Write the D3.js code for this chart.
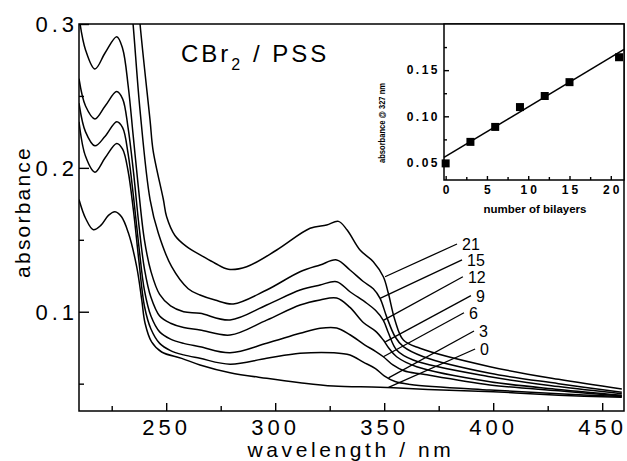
<!DOCTYPE html>
<html>
<head>
<meta charset="utf-8">
<script src="https://cdn.jsdelivr.net/npm/d3@7"></script>
<style>
  body { margin: 0; background: #fff; }
  svg { display: block; font-family: "Liberation Sans", Arial, sans-serif; }
  .frame { fill: none; stroke: #000; stroke-width: 1.5; }
  .spectrum { fill: none; stroke: #000; stroke-width: 1.5; }
  .leader { stroke: #000; stroke-width: 1.3; }
  .axis line { stroke: #000; stroke-width: 1.4; }
  .axis path { display: none; }
</style>
</head>
<body>
<svg width="627" height="461"></svg>
<script>
// spectra: [wavelength nm, absorbance], one array per number of bilayers
var curve0 = [[210, 0.178], [213, 0.165], [216.6, 0.157], [220, 0.160], [223.5, 0.167], [226.5, 0.1695], [229.5, 0.166], [232.6, 0.155], [236.5, 0.131], [238.8, 0.108], [240.3, 0.092], [243.3, 0.079], [247.9, 0.072], [257.1, 0.0676], [265.5, 0.063], [279.3, 0.0576], [296.1, 0.0537], [311.4, 0.0507], [326.7, 0.0484], [348, 0.0475], [370, 0.046], [400, 0.0444], [430, 0.042], [459, 0.0405]];
var curve3 = [[210, 0.232], [213, 0.208], [217.3, 0.197], [222, 0.207], [227.3, 0.217], [230, 0.213], [232.5, 0.198], [235, 0.17], [237.5, 0.135], [240, 0.104], [243, 0.088], [247, 0.078], [252, 0.073], [258, 0.070], [265.5, 0.0676], [279.3, 0.0635], [296.1, 0.0676], [311.4, 0.0711], [326.7, 0.0715], [334.3, 0.0699], [340.4, 0.065], [346, 0.0605], [350, 0.0555], [355, 0.0515], [362, 0.0495], [398.5, 0.0456], [430, 0.043], [459, 0.041]];
var curve6 = [[210, 0.245], [213, 0.225], [217.3, 0.2153], [222, 0.222], [227.3, 0.2321], [230, 0.228], [232.5, 0.21], [235, 0.18], [237.5, 0.145], [240, 0.115], [243, 0.097], [247, 0.086], [252, 0.081], [258, 0.078], [265.5, 0.0757], [279.3, 0.0715], [296.1, 0.0781], [311.4, 0.085], [320.6, 0.0885], [328.2, 0.0887], [334.3, 0.084], [341, 0.077], [346, 0.0725], [349.6, 0.0687], [354, 0.063], [359, 0.059], [368, 0.0565], [398.5, 0.0491], [430, 0.045], [459, 0.0415]];
var curve9 = [[210, 0.262], [213, 0.243], [217.3, 0.234], [222, 0.243], [227.3, 0.253], [230, 0.248], [232.5, 0.228], [235, 0.197], [237.5, 0.16], [240, 0.13], [243, 0.11], [247, 0.097], [252, 0.092], [258, 0.089], [265.5, 0.0873], [279.3, 0.0838], [296.1, 0.0942], [311.4, 0.1047], [320.6, 0.1082], [328.2, 0.1095], [334.3, 0.103], [340.4, 0.0925], [346, 0.0865], [349.6, 0.0803], [352, 0.075], [355.7, 0.0687], [364.9, 0.0618], [398.5, 0.0514], [430, 0.046], [459, 0.042]];
var curve12 = [[210, 0.305], [213, 0.282], [217.3, 0.2687], [222, 0.28], [227.3, 0.2912], [230, 0.283], [232.6, 0.2564], [234.9, 0.2217], [237.2, 0.187], [240, 0.15], [243, 0.128], [247, 0.112], [252, 0.104], [258, 0.1], [265.5, 0.0989], [279.3, 0.0943], [296.1, 0.1047], [311.4, 0.1151], [320.6, 0.1186], [328.2, 0.1209], [334.3, 0.1139], [342, 0.1059], [346, 0.101], [349.6, 0.094], [352, 0.085], [355.7, 0.0734], [363.3, 0.0664], [398.5, 0.0548], [430, 0.048], [459, 0.043]];
var curve15 = [[233.5, 0.32], [234.8, 0.3], [238, 0.24], [242.6, 0.178], [246.4, 0.1545], [252.5, 0.1313], [260.1, 0.116], [265.5, 0.1116], [272.4, 0.1081], [280.8, 0.1054], [296.1, 0.1151], [311.4, 0.1278], [320.6, 0.1325], [328.2, 0.136], [334.3, 0.129], [340.4, 0.121], [345, 0.116], [348.1, 0.1093], [351.1, 0.0966], [355, 0.0826], [358.8, 0.0757], [368, 0.0687], [398.5, 0.0572], [430, 0.05], [459, 0.044]];
var curve21 = [[236.5, 0.33], [238, 0.3], [242.6, 0.233], [244, 0.212], [248.7, 0.178], [250.2, 0.166], [254, 0.153], [259.4, 0.1452], [267, 0.1383], [272.4, 0.1337], [278.5, 0.1295], [286.9, 0.1313], [300.7, 0.1429], [316, 0.158], [323.6, 0.1603], [329, 0.1628], [333, 0.1568], [338.9, 0.1429], [345, 0.1348], [349.6, 0.1243], [351.9, 0.1128], [354.9, 0.0943], [358.8, 0.0803], [366.4, 0.0746], [398.5, 0.0618], [430, 0.053], [459, 0.0463]];

var bilayerLabels = ["0", "3", "6", "9", "12", "15", "21"];
var spectra = [curve0, curve3, curve6, curve9, curve12, curve15, curve21];

// leader lines: label end and curve end, in data units
var leaderStart = [[391.7, 0.0741], [391.2, 0.0866], [386.6, 0.0993], [389.8, 0.1112], [386.1, 0.1243], [385.7, 0.136], [383.4, 0.1471]];
var leaderEnd = [[352, 0.0474], [352, 0.054], [349.6, 0.0687], [350.5, 0.079], [349.6, 0.094], [348.1, 0.1093], [350.4, 0.1243]];

var xTicks = [250, 300, 350, 400, 450];
var xMinorTicks = [225, 275, 325, 375, 425];
var yTicks = [0.1, 0.2, 0.3];
var yMinorTicks = [0.05, 0.15, 0.25];

// inset: absorbance @ 327 nm vs number of bilayers
var insetLayers = [0, 3, 6, 9, 12, 15, 21];
var insetAbs = [0.049, 0.0723, 0.0885, 0.110, 0.122, 0.137, 0.164];
var fitLine = [[-0.2, 0.0555], [21.6, 0.1724]];
var insetXTicks = [0, 5, 10, 15, 20];
var insetXMinor = [2.5, 7.5, 12.5, 17.5];
var insetYTicks = [0.05, 0.10, 0.15];
var insetYMinor = [0.075, 0.125, 0.175];

var svg = d3.select("svg");

//////////// MAIN PLOT ////////////

var plotLeft = 79, plotTop = 24, plotRight = 624, plotBottom = 411;

var x = d3.scaleLinear().domain([210, 460]).range([plotLeft, plotRight]);
var y = d3.scaleLinear().domain([0.031, 0.3]).range([plotBottom, plotTop]);

svg.append("clipPath").attr("id", "plotclip")
    .append("rect")
    .attr("x", plotLeft).attr("y", plotTop)
    .attr("width", plotRight - plotLeft).attr("height", plotBottom - plotTop);

var line = d3.line()
    .x(function (d) { return x(d[0]); })
    .y(function (d) { return y(d[1]); })
    .curve(d3.curveCatmullRom.alpha(0.5));

svg.append("g")
    .attr("clip-path", "url(#plotclip)")
    .selectAll("path")
    .data(spectra)
    .enter().append("path")
    .attr("class", "spectrum")
    .attr("d", line);

// leader lines and layer numbers
svg.append("g").selectAll("line")
    .data(leaderStart)
    .enter().append("line")
    .attr("class", "leader")
    .attr("x1", function (d) { return x(d[0]); })
    .attr("y1", function (d) { return y(d[1]); })
    .attr("x2", function (d, i) { return x(leaderEnd[i][0]); })
    .attr("y2", function (d, i) { return y(leaderEnd[i][1]); });

svg.append("g").selectAll("text")
    .data(leaderStart)
    .enter().append("text")
    .attr("x", function (d) { return x(d[0]) + 5; })
    .attr("y", function (d) { return y(d[1]) + 6; })
    .attr("font-size", 16)
    .text(function (d, i) { return bilayerLabels[i]; });

// axes, ticks pointing inwards
var xAxis = svg.append("g")
    .attr("class", "axis")
    .attr("transform", "translate(0," + plotBottom + ")")
    .call(d3.axisBottom(x).tickValues(xTicks).tickSize(-8).tickPadding(8));
xAxis.selectAll("text")
    .attr("font-size", 22)
    .attr("letter-spacing", 4)
    .attr("fill", "#000");

svg.append("g")
    .attr("class", "axis")
    .attr("transform", "translate(0," + plotBottom + ")")
    .call(d3.axisBottom(x).tickValues(xMinorTicks).tickSize(-5).tickFormat(""));

var yAxis = svg.append("g")
    .attr("class", "axis")
    .attr("transform", "translate(" + plotLeft + ",0)")
    .call(d3.axisLeft(y).tickValues(yTicks).tickSize(-10).tickPadding(1).tickFormat(d3.format(".1f")));
yAxis.selectAll("text")
    .attr("font-size", 22)
    .attr("letter-spacing", 4)
    .attr("dy", "0.36em")
    .attr("fill", "#000");

svg.append("g")
    .attr("class", "axis")
    .attr("transform", "translate(" + plotLeft + ",0)")
    .call(d3.axisLeft(y).tickValues(yMinorTicks).tickSize(-5).tickFormat(""));

svg.append("rect")
    .attr("class", "frame")
    .attr("x", plotLeft).attr("y", plotTop)
    .attr("width", plotRight - plotLeft).attr("height", plotBottom - plotTop);

// axis titles
svg.append("text")
    .attr("x", 351).attr("y", 457)
    .attr("text-anchor", "middle")
    .attr("font-size", 21)
    .attr("letter-spacing", 3.6)
    .text("wavelength / nm");

svg.append("text")
    .attr("transform", "translate(30,212) rotate(-90)")
    .attr("text-anchor", "middle")
    .attr("font-size", 21)
    .attr("letter-spacing", 2.2)
    .text("absorbance");

var title = svg.append("text")
    .attr("x", 181).attr("y", 62)
    .attr("font-size", 24)
    .attr("letter-spacing", 3);
title.append("tspan").text("CBr");
title.append("tspan").attr("font-size", 16).attr("dy", 8).text("2");
title.append("tspan").attr("dy", -8).text(" / PSS");

//////////// INSET ////////////

var iLeft = 444, iTop = 24, iRight = 624, iBottom = 180;

var ix = d3.scaleLinear().domain([-0.2, 21.6]).range([iLeft, iRight]);
var iy = d3.scaleLinear().domain([0.031, 0.2]).range([iBottom, iTop]);

svg.append("rect")
    .attr("x", iLeft).attr("y", iTop)
    .attr("width", iRight - iLeft).attr("height", iBottom - iTop)
    .attr("fill", "#fff");

var ixAxis = svg.append("g")
    .attr("class", "axis")
    .attr("transform", "translate(0," + iBottom + ")")
    .call(d3.axisBottom(ix).tickValues(insetXTicks).tickSize(-4).tickPadding(5));
ixAxis.selectAll("text")
    .attr("font-size", 12)
    .attr("font-weight", "bold")
    .attr("letter-spacing", 3)
    .attr("dx", 1.5)
    .attr("fill", "#000");

svg.append("g")
    .attr("class", "axis")
    .attr("transform", "translate(0," + iBottom + ")")
    .call(d3.axisBottom(ix).tickValues(insetXMinor).tickSize(-3).tickFormat(""));

var iyAxis = svg.append("g")
    .attr("class", "axis")
    .attr("transform", "translate(" + iLeft + ",0)")
    .call(d3.axisLeft(iy).tickValues(insetYTicks).tickSize(-5).tickPadding(4).tickFormat(d3.format(".2f")));
iyAxis.selectAll("text")
    .attr("font-size", 12)
    .attr("font-weight", "bold")
    .attr("letter-spacing", 2.5)
    .attr("fill", "#000");

svg.append("g")
    .attr("class", "axis")
    .attr("transform", "translate(" + iLeft + ",0)")
    .call(d3.axisLeft(iy).tickValues(insetYMinor).tickSize(-3).tickFormat(""));

svg.append("rect")
    .attr("class", "frame")
    .attr("x", iLeft).attr("y", iTop)
    .attr("width", iRight - iLeft).attr("height", iBottom - iTop);

svg.append("line")
    .attr("x1", ix(fitLine[0][0])).attr("y1", iy(fitLine[0][1]))
    .attr("x2", ix(fitLine[1][0])).attr("y2", iy(fitLine[1][1]))
    .attr("stroke", "#000")
    .attr("stroke-width", 1.5);

svg.append("g").selectAll("rect")
    .data(insetLayers)
    .enter().append("rect")
    .attr("x", function (d) { return ix(d) - 4; })
    .attr("y", function (d, i) { return iy(insetAbs[i]) - 4; })
    .attr("width", 8).attr("height", 8)
    .attr("fill", "#000");

svg.append("text")
    .attr("x", 535).attr("y", 213)
    .attr("text-anchor", "middle")
    .attr("font-size", 11.5)
    .attr("font-weight", "bold")
    .text("number of bilayers");

svg.append("text")
    .attr("transform", "translate(385,123) rotate(-90)")
    .attr("text-anchor", "middle")
    .attr("font-size", 9)
    .attr("font-weight", "bold")
    .attr("textLength", 80)
    .attr("lengthAdjust", "spacingAndGlyphs")
    .text("absorbance @ 327 nm");
</script>
</body>
</html>
